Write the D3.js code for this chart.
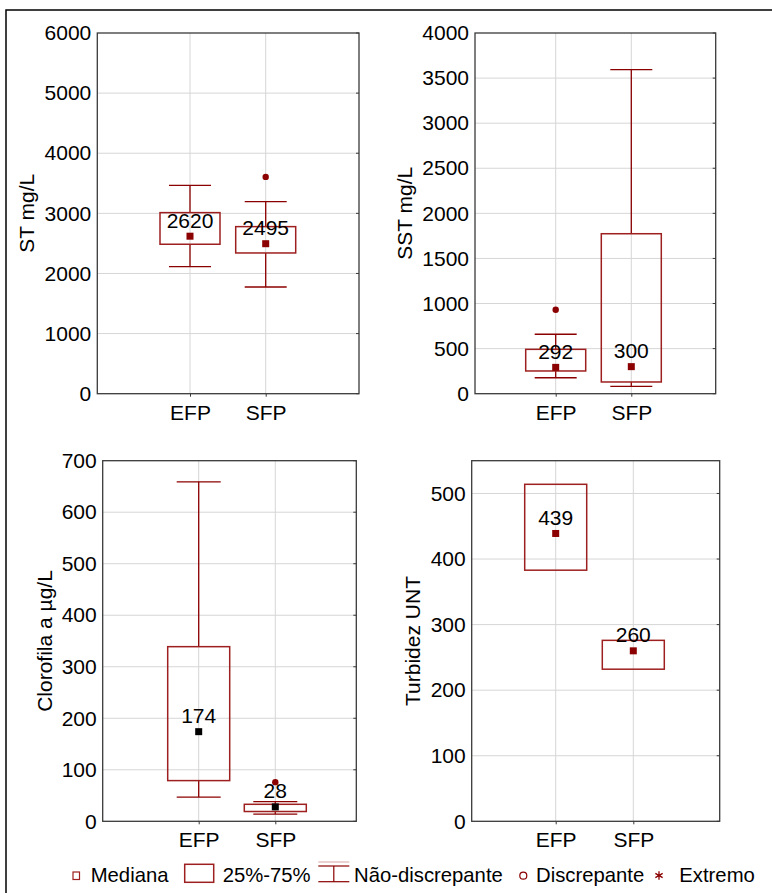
<!DOCTYPE html>
<html>
<head>
<meta charset="utf-8">
<script src="https://cdn.jsdelivr.net/npm/d3@7"></script>
<style>
  body { margin: 0; background: #fff; }
  svg { display: block; }
  text { font-family: "Liberation Sans", Arial, Helvetica, sans-serif; fill: #000; }
</style>
</head>
<body>
<svg id="chart" width="772" height="893"></svg>
<script>
// Sampling points
const categories = ["EFP", "SFP"];

// ST (sólidos totais), mg/L
const stLow = [2113, 1775];
const stQ1 = [2486, 2341];
const stMedian = [2620, 2495];
const stQ3 = [3012, 2779];
const stHigh = [3467, 3195];
const stOutliers = [[], [3606]];
const stTicks = [0, 1000, 2000, 3000, 4000, 5000, 6000];

// SST (sólidos suspensos totais), mg/L
const sstLow = [177, 82];
const sstQ1 = [252, 130];
const sstMedian = [292, 300];
const sstQ3 = [492, 1774];
const sstHigh = [659, 3593];
const sstOutliers = [[931], []];
const sstTicks = [0, 500, 1000, 1500, 2000, 2500, 3000, 3500, 4000];

// Clorofila a, µg/L
const chlLow = [47, 14];
const chlQ1 = [79, 19];
const chlMedian = [174, 28];
const chlQ3 = [339, 33];
const chlHigh = [659, 38];
const chlOutliers = [[], [76]];
const chlTicks = [0, 100, 200, 300, 400, 500, 600, 700];

// Turbidez, UNT (no whiskers drawn)
const turQ1 = [383, 232];
const turMedian = [439, 260];
const turQ3 = [514, 276];
const turTicks = [0, 100, 200, 300, 400, 500];

// Legend entries
const legendLabels = ["Mediana", "25%-75%", "Não-discrepante", "Discrepante", "Extremo"];

const RED = "#8b0000";
const BOX = "#9e1f1f";
const GRID = "#d6d6d6";
const FRAME = "#3a3a3a";
const FS = "21px";

const svg = d3.select("#chart");

// outer border of the figure
svg.append("rect")
  .attr("x", 6).attr("y", 10)
  .attr("width", 800).attr("height", 900)
  .attr("fill", "none").attr("stroke", "#000").attr("stroke-width", 1.5);

const panels = [
  { label: "ST mg/L", ticks: stTicks, yMax: 6000,
    low: stLow, q1: stQ1, med: stMedian, q3: stQ3, high: stHigh, out: stOutliers,
    plot: { x0: 97.3, x1: 359, y0: 33, y1: 393.7 }, cat: [190, 265.7],
    boxW: 60, capW: 42, labelX: 34.3, medColor: RED },
  { label: "SST mg/L", ticks: sstTicks, yMax: 4000,
    low: sstLow, q1: sstQ1, med: sstMedian, q3: sstQ3, high: sstHigh, out: sstOutliers,
    plot: { x0: 475, x1: 715.7, y0: 33, y1: 393.7 }, cat: [555.7, 631.3],
    boxW: 60, capW: 42, labelX: 411.7, medColor: RED },
  { label: "Clorofila a µg/L", ticks: chlTicks, yMax: 700,
    low: chlLow, q1: chlQ1, med: chlMedian, q3: chlQ3, high: chlHigh, out: chlOutliers,
    plot: { x0: 102.7, x1: 356.3, y0: 460.7, y1: 821.3 }, cat: [198.7, 275.3],
    boxW: 62, capW: 44, labelX: 51.7, medColor: "#000" },
  { label: "Turbidez UNT", ticks: turTicks, yMax: 550,
    low: null, q1: turQ1, med: turMedian, q3: turQ3, high: null, out: null,
    plot: { x0: 471.7, x1: 719.7, y0: 460.7, y1: 821.3 }, cat: [555.7, 633.3],
    boxW: 62, capW: 44, labelX: 420, medColor: RED }
];

panels.forEach(p => {
  const g = svg.append("g");
  const { x0, x1, y0, y1 } = p.plot;
  const x = d3.scalePoint().domain(categories).range(p.cat);
  const y = d3.scaleLinear().domain([0, p.yMax]).range([y1, y0]);

  // grid
  g.append("g").selectAll("line.h").data(p.ticks.filter(t => t > 0 && t < p.yMax)).join("line")
    .attr("x1", x0).attr("x2", x1)
    .attr("y1", d => y(d)).attr("y2", d => y(d))
    .attr("stroke", GRID).attr("stroke-width", 1);
  g.append("g").selectAll("line.v").data(categories).join("line")
    .attr("x1", d => x(d)).attr("x2", d => x(d))
    .attr("y1", y0).attr("y2", y1)
    .attr("stroke", GRID).attr("stroke-width", 1);

  // left axis labels
  const yAxis = d3.axisLeft(y).tickValues(p.ticks).tickFormat(d3.format("d"))
    .tickSize(0).tickPadding(6);
  const ya = g.append("g").attr("transform", `translate(${x0},0)`).call(yAxis);
  ya.select(".domain").remove();
  ya.selectAll("text").style("font-size", FS).attr("fill", "#000");

  // inner ticks on the right edge
  g.append("g").selectAll("line").data(p.ticks).join("line")
    .attr("x1", x1 - 3).attr("x2", x1)
    .attr("y1", d => y(d)).attr("y2", d => y(d))
    .attr("stroke", FRAME).attr("stroke-width", 1);

  // bottom axis
  const xAxis = d3.axisBottom(x).tickSize(3).tickPadding(8);
  const xa = g.append("g").attr("transform", `translate(0,${y1})`).call(xAxis);
  xa.select(".domain").remove();
  xa.selectAll("line").attr("stroke", FRAME);
  xa.selectAll("text").style("font-size", FS).attr("fill", "#000")
    .attr("dy", null).attr("y", 26);

  // plot frame
  g.append("rect")
    .attr("x", x0).attr("y", y0)
    .attr("width", x1 - x0).attr("height", y1 - y0)
    .attr("fill", "none").attr("stroke", FRAME).attr("stroke-width", 1.3);

  // axis title
  g.append("text")
    .attr("transform", `translate(${p.labelX},${(y0 + y1) / 2}) rotate(-90)`)
    .attr("text-anchor", "middle")
    .style("font-size", FS)
    .text(p.label);

  const idx = d3.range(categories.length);

  // whiskers
  if (p.low) {
    const wg = g.append("g").attr("stroke", RED).attr("stroke-width", 1.3);
    idx.forEach(i => {
      const cx = x(categories[i]);
      wg.append("line").attr("x1", cx).attr("x2", cx).attr("y1", y(p.high[i])).attr("y2", y(p.q3[i]));
      wg.append("line").attr("x1", cx).attr("x2", cx).attr("y1", y(p.q1[i])).attr("y2", y(p.low[i]));
      wg.append("line").attr("x1", cx - p.capW / 2).attr("x2", cx + p.capW / 2)
        .attr("y1", y(p.high[i])).attr("y2", y(p.high[i]));
      wg.append("line").attr("x1", cx - p.capW / 2).attr("x2", cx + p.capW / 2)
        .attr("y1", y(p.low[i])).attr("y2", y(p.low[i]));
    });
  }

  // boxes
  g.append("g").selectAll("rect").data(idx).join("rect")
    .attr("x", i => x(categories[i]) - p.boxW / 2)
    .attr("y", i => y(p.q3[i]))
    .attr("width", p.boxW)
    .attr("height", i => y(p.q1[i]) - y(p.q3[i]))
    .attr("fill", "none").attr("stroke", BOX).attr("stroke-width", 1.5);

  // outliers
  if (p.out) {
    const pts = [];
    idx.forEach(i => p.out[i].forEach(v => pts.push({ c: categories[i], v })));
    g.append("g").selectAll("circle").data(pts).join("circle")
      .attr("cx", d => x(d.c)).attr("cy", d => y(d.v)).attr("r", 3.2)
      .attr("fill", RED);
  }

  // median markers
  g.append("g").selectAll("rect").data(idx).join("rect")
    .attr("x", i => x(categories[i]) - 3.5)
    .attr("y", i => y(p.med[i]) - 3.5)
    .attr("width", 7).attr("height", 7)
    .attr("fill", p.medColor);

  // median labels
  g.append("g").selectAll("text").data(idx).join("text")
    .attr("x", i => x(categories[i]))
    .attr("y", i => y(p.med[i]) - 8.5)
    .attr("text-anchor", "middle")
    .style("font-size", FS)
    .text(i => p.med[i]);
});

// legend
const lg = svg.append("g");
const baseY = 881.7;
const legendTextX = [90.7, 222.7, 354, 536, 679.3];

lg.append("rect").attr("x", 73).attr("y", 872).attr("width", 6.5).attr("height", 7.5)
  .attr("fill", "none").attr("stroke", BOX).attr("stroke-width", 1.2);

lg.append("rect").attr("x", 184.7).attr("y", 864.3).attr("width", 29).attr("height", 18)
  .attr("fill", "none").attr("stroke", BOX).attr("stroke-width", 1.5);

lg.append("line").attr("x1", 318.3).attr("x2", 349.3).attr("y1", 862).attr("y2", 862)
  .attr("stroke", "#d9a3a3").attr("stroke-width", 1);
lg.append("line").attr("x1", 318.3).attr("x2", 349.3).attr("y1", 866).attr("y2", 866)
  .attr("stroke", RED).attr("stroke-width", 1.2);
lg.append("line").attr("x1", 318.3).attr("x2", 349.3).attr("y1", 881.7).attr("y2", 881.7)
  .attr("stroke", RED).attr("stroke-width", 1.2);
lg.append("line").attr("x1", 333.8).attr("x2", 333.8).attr("y1", 866).attr("y2", 881.7)
  .attr("stroke", RED).attr("stroke-width", 1.2);

lg.append("circle").attr("cx", 523.3).attr("cy", 875.7).attr("r", 3.5)
  .attr("fill", "none").attr("stroke", RED).attr("stroke-width", 1.2);

lg.append("path")
  .attr("transform", "translate(659,875.5)")
  .attr("d", d3.symbol(d3.symbolAsterisk, 50)())
  .attr("fill", "none").attr("stroke", RED).attr("stroke-width", 1.3);

lg.selectAll("text").data(legendLabels).join("text")
  .attr("x", (d, i) => legendTextX[i])
  .attr("y", baseY)
  .style("font-size", "20.3px")
  .text(d => d);
</script>
</body>
</html>
